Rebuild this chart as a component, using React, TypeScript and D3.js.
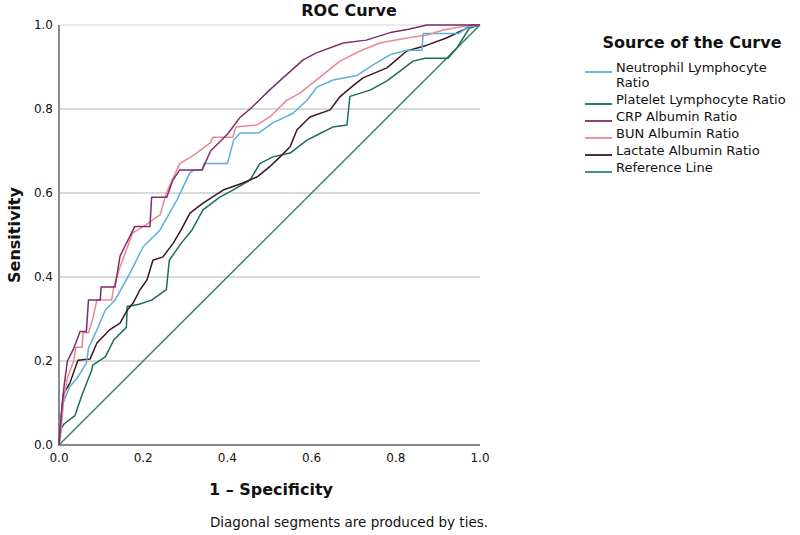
import React from "react";
import * as d3 from "d3";

type Pt = [number, number];

const seriesNames = [
  "Neutrophil Lymphocyte Ratio",
  "Platelet Lymphocyte Ratio",
  "CRP Albumin Ratio",
  "BUN Albumin Ratio",
  "Lactate Albumin Ratio",
  "Reference Line",
];

const nlr: Pt[] = [
  [0, 0], [0.005, 0.05], [0.01, 0.1], [0.025, 0.138], [0.045, 0.162], [0.065, 0.195], [0.07, 0.23],
  [0.09, 0.274], [0.11, 0.321], [0.133, 0.345], [0.169, 0.41], [0.2, 0.472], [0.24, 0.512],
  [0.28, 0.583], [0.311, 0.648], [0.321, 0.655], [0.34, 0.655], [0.345, 0.67], [0.4, 0.67],
  [0.415, 0.726], [0.43, 0.743], [0.475, 0.743], [0.508, 0.767], [0.556, 0.79], [0.589, 0.821],
  [0.613, 0.852], [0.651, 0.869], [0.708, 0.88], [0.746, 0.905], [0.786, 0.929], [0.826, 0.94],
  [0.862, 0.94], [0.865, 0.98], [0.95, 0.98], [0.97, 0.995], [1, 1],
];

const plr: Pt[] = [
  [0, 0], [0.003, 0.036], [0.012, 0.05], [0.038, 0.07], [0.055, 0.12], [0.078, 0.179], [0.08, 0.19],
  [0.11, 0.21], [0.13, 0.25], [0.16, 0.28], [0.162, 0.33], [0.19, 0.335], [0.22, 0.345],
  [0.255, 0.37], [0.262, 0.44], [0.29, 0.48], [0.316, 0.512], [0.342, 0.56], [0.382, 0.59],
  [0.413, 0.607], [0.454, 0.631], [0.477, 0.67], [0.508, 0.686], [0.549, 0.695], [0.589, 0.726],
  [0.613, 0.738], [0.65, 0.757], [0.684, 0.762], [0.691, 0.83], [0.739, 0.845], [0.779, 0.867],
  [0.81, 0.89], [0.841, 0.914], [0.87, 0.921], [0.924, 0.921], [0.945, 0.945], [0.96, 0.969],
  [0.975, 0.993], [1, 1],
];

const crp: Pt[] = [
  [0, 0], [0.005, 0.07], [0.012, 0.14], [0.02, 0.2], [0.035, 0.23], [0.05, 0.27], [0.065, 0.27],
  [0.07, 0.345], [0.098, 0.345], [0.1, 0.376], [0.133, 0.376], [0.145, 0.45], [0.18, 0.52],
  [0.216, 0.52], [0.22, 0.59], [0.256, 0.59], [0.27, 0.63], [0.287, 0.655], [0.34, 0.655],
  [0.36, 0.7], [0.4, 0.74], [0.43, 0.78], [0.454, 0.8], [0.5, 0.845], [0.532, 0.874], [0.58, 0.917],
  [0.61, 0.933], [0.675, 0.957], [0.73, 0.964], [0.79, 0.983], [0.83, 0.99], [0.874, 1], [1, 1],
];

const bun: Pt[] = [
  [0, 0], [0.005, 0.03], [0.01, 0.1], [0.02, 0.16], [0.035, 0.2], [0.04, 0.233], [0.055, 0.233],
  [0.057, 0.267], [0.07, 0.267], [0.08, 0.3], [0.09, 0.345], [0.125, 0.345], [0.13, 0.376],
  [0.145, 0.424], [0.175, 0.505], [0.2, 0.52], [0.24, 0.548], [0.255, 0.6], [0.287, 0.67],
  [0.32, 0.69], [0.36, 0.72], [0.366, 0.733], [0.413, 0.733], [0.42, 0.757], [0.47, 0.762],
  [0.501, 0.781], [0.54, 0.82], [0.572, 0.838], [0.62, 0.876], [0.667, 0.914], [0.715, 0.938],
  [0.762, 0.957], [0.826, 0.969], [0.874, 0.976], [0.912, 0.988], [0.97, 0.998], [1, 1],
];

const lactate: Pt[] = [
  [0, 0], [0.005, 0.06], [0.01, 0.12], [0.026, 0.148], [0.045, 0.202], [0.074, 0.205], [0.09, 0.243],
  [0.12, 0.274], [0.145, 0.29], [0.162, 0.321], [0.176, 0.338], [0.192, 0.369], [0.209, 0.393],
  [0.223, 0.44], [0.247, 0.448], [0.271, 0.48], [0.29, 0.512], [0.311, 0.552], [0.342, 0.576],
  [0.39, 0.607], [0.437, 0.624], [0.47, 0.638], [0.5, 0.662], [0.525, 0.686], [0.549, 0.71],
  [0.565, 0.75], [0.596, 0.781], [0.644, 0.798], [0.667, 0.829], [0.698, 0.855], [0.722, 0.874],
  [0.779, 0.898], [0.826, 0.938], [0.874, 0.952], [0.92, 0.969], [0.96, 0.988], [0.98, 1], [1, 1],
];

const reference: Pt[] = [
  [0, 0], [1, 1],
];

const tickValues = [0, 0.2, 0.4, 0.6, 0.8, 1.0];

const colors = ["#5aaee2", "#1e6a62", "#7c2d6a", "#e98890", "#3a1626", "#2e8a60"];

const W = 800;
const H = 535;
const FONT = "'DejaVu Sans', Verdana, sans-serif";

export default function App() {
  const x = d3.scaleLinear().domain([0, 1]).range([59, 480]);
  const y = d3.scaleLinear().domain([0, 1]).range([445, 25]);
  const line = d3
    .line<Pt>()
    .x((d) => x(d[0]))
    .y((d) => y(d[1]));

  const allSeries = [nlr, plr, crp, bun, lactate, reference];
  const drawOrder = [5, 1, 4, 0, 3, 2];

  const legendX = 585;
  const legendRows = [
    { lines: ["Neutrophil Lymphocyte", "Ratio"], y: 67 },
    { lines: ["Platelet Lymphocyte Ratio"], y: 99 },
    { lines: ["CRP Albumin Ratio"], y: 116 },
    { lines: ["BUN Albumin Ratio"], y: 133 },
    { lines: ["Lactate Albumin Ratio"], y: 150 },
    { lines: ["Reference Line"], y: 167 },
  ];

  return (
    <svg
      width={W}
      height={H}
      style={{ position: "absolute", left: 0, top: 0, background: "#fff" }}
      fontFamily={FONT}
    >
      <rect x={0} y={0} width={W} height={H} fill="#fff" />
      {tickValues
        .filter((t) => t > 0)
        .map((t) => (
          <line
            key={"g" + t}
            x1={x(0)}
            x2={x(1)}
            y1={y(t)}
            y2={y(t)}
            stroke={t === 1 ? "#e4e4e4" : "#cdcdcd"}
            strokeWidth={1.5}
          />
        ))}
      <line x1={x(0)} x2={x(0)} y1={y(0) + 1} y2={y(1)} stroke="#8a8a8a" strokeWidth={2} />
      <line x1={x(0)} x2={x(1)} y1={y(0)} y2={y(0)} stroke="#8a8a8a" strokeWidth={2} />
      {tickValues.map((t) => (
        <text
          key={"yt" + t}
          x={53}
          y={y(t)}
          dy="0.35em"
          textAnchor="end"
          fontSize={12}
          fill="#111"
        >
          {t.toFixed(1)}
        </text>
      ))}
      {tickValues.map((t) => (
        <text
          key={"xt" + t}
          x={x(t)}
          y={462}
          textAnchor="middle"
          fontSize={12}
          fill="#111"
        >
          {t.toFixed(1)}
        </text>
      ))}
      {drawOrder.map((i) => (
        <path
          key={"s" + i}
          d={line(allSeries[i]) || ""}
          fill="none"
          stroke={colors[i]}
          strokeWidth={1.5}
          strokeLinejoin="round"
        />
      ))}
      <text x={349} y={16} textAnchor="middle" fontSize={16} fontWeight="bold" fill="#111">
        ROC Curve
      </text>
      <text
        transform={`translate(20, ${y(0.5)}) rotate(-90)`}
        textAnchor="middle"
        fontSize={16}
        fontWeight="bold"
        fill="#111"
      >
        Sensitivity
      </text>
      <text x={271} y={495} textAnchor="middle" fontSize={16} fontWeight="bold" fill="#111">
        1 – Specificity
      </text>
      <text x={349} y={527} textAnchor="middle" fontSize={13.5} fill="#111">
        Diagonal segments are produced by ties.
      </text>
      <text x={692} y={48} textAnchor="middle" fontSize={16} fontWeight="bold" fill="#111">
        Source of the Curve
      </text>
      {legendRows.map((r, i) => (
        <g key={"l" + i}>
          <line
            x1={legendX}
            x2={legendX + 27}
            y1={r.y + 5}
            y2={r.y + 5}
            stroke={colors[i]}
            strokeWidth={1.8}
          />
          {r.lines.map((s, j) => (
            <text key={j} x={legendX + 31} y={r.y + j * 15} dy="0.35em" fontSize={13} fill="#111">
              {seriesNames[i] && s}
            </text>
          ))}
        </g>
      ))}
    </svg>
  );
}
